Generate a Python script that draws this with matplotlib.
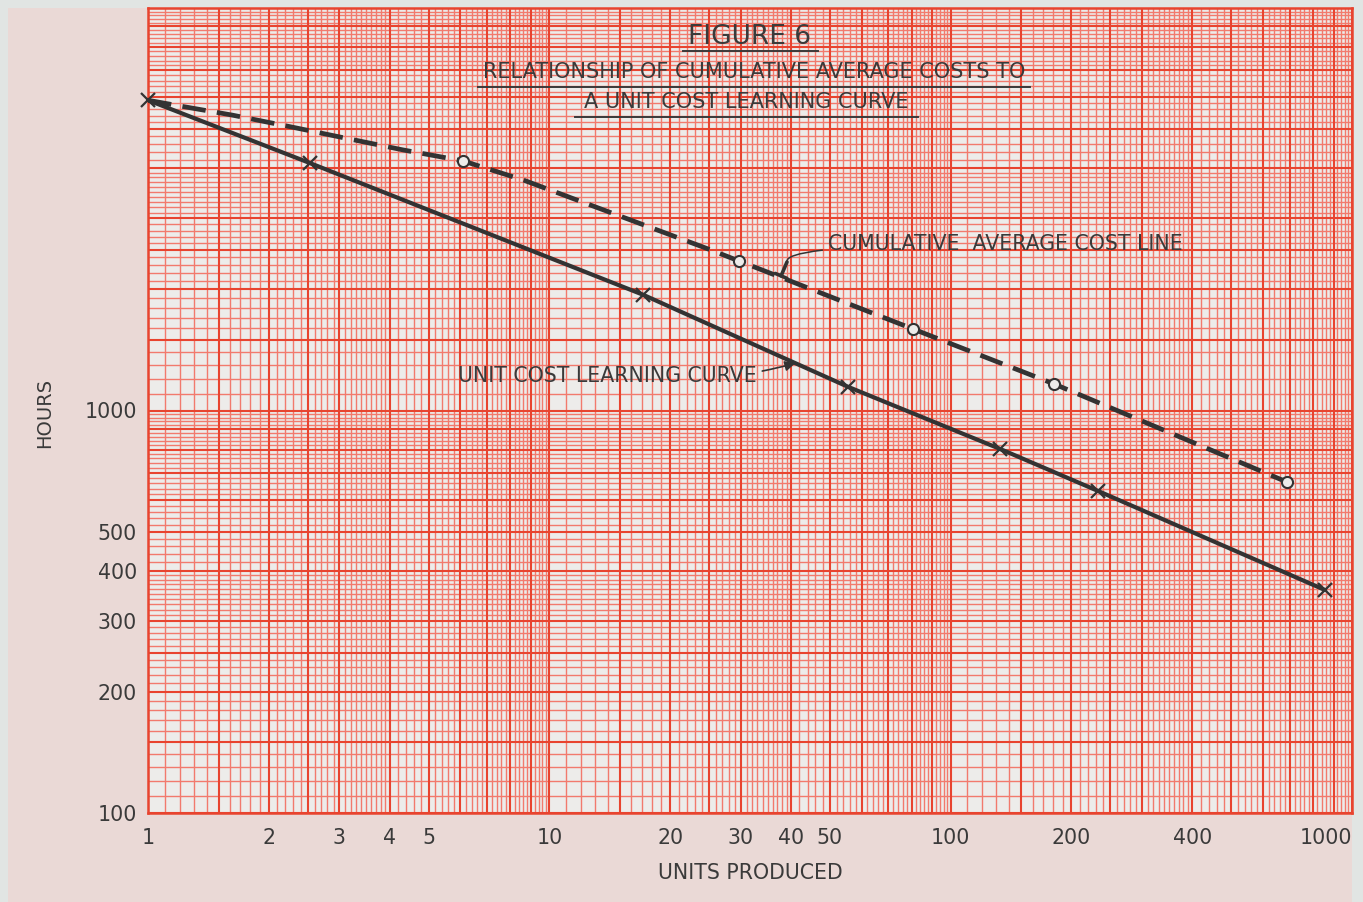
import numpy as np
import matplotlib
matplotlib.use("Agg")
import matplotlib.pyplot as plt
from matplotlib.lines import Line2D
from matplotlib.patches import Rectangle

# ---------------- data ----------------
unit_x = [1, 2.53, 17.1, 55.5, 133, 233, 857]
unit_y = [5900, 4120, 1940, 1145, 802, 631, 358]

cum_x = [1, 1.20, 1.62, 2.22, 3.01, 4.32, 6.09, 8.60, 24.6, 29.7, 80.6, 181, 689]
cum_y = [5900, 5710, 5420, 5090, 4780, 4440, 4170, 3740, 2530, 2352, 1594, 1164, 664]

cum_marker_x = [6.09, 29.7, 80.6, 181, 689]
cum_marker_y = [4170, 2352, 1594, 1164, 664]

x_ticks = [1, 2, 3, 4, 5, 10, 20, 30, 40, 50, 100, 200, 400, 1000]
x_tick_labels = ["1", "2", "3", "4", "5", "10", "20", "30", "40", "50", "100", "200", "400", "1000"]
y_ticks = [100, 200, 300, 400, 500, 1000]
y_tick_labels = ["100", "200", "300", "400", "500", "1000"]

title_lines = ["FIGURE 6",
               "RELATIONSHIP OF CUMULATIVE AVERAGE COSTS TO",
               "A UNIT COST LEARNING CURVE"]
x_label = "UNITS PRODUCED"
y_label = "HOURS"
cum_label = "CUMULATIVE  AVERAGE COST LINE"
unit_label = "UNIT COST LEARNING CURVE"

# ---------------- styling ----------------
W, H = 1363, 902
PAGE = "#ead9d6"
EDGE = "#e1e5e3"
PAPER = "#edecea"
RED_BOLD = "#e8442f"
RED_FINE = "#f27a6d"
INK = "#333333"
TXT = "#3a3a3a"
FS = 14.8

plt.rcParams["font.family"] = ["DejaVu Sans"]

fig = plt.figure(figsize=(W / 100, H / 100), dpi=100)
fig.patch.set_facecolor(EDGE)
fig.add_artist(Rectangle((8 / W, 0), (1352 - 8) / W, (H - 8) / H,
                         transform=fig.transFigure, facecolor=PAGE,
                         edgecolor="none", zorder=-10))

L, R, T, B = 148, 1352, 8, 813
ax = fig.add_axes([L / W, (H - B) / H, (R - L) / W, (B - T) / H])
ax.set_facecolor(PAPER)
ax.set_xscale("log")
ax.set_yscale("log")
ax.set_xlim(1, 1000)
ax.set_ylim(100, 10000)


def paper_lines(lo_exp, hi_exp):
    fine, bold = [], []
    bold_m = [1, 1.5, 2, 2.5, 3, 4, 5, 6, 7, 8, 9]
    for e in range(lo_exp, hi_exp):
        base = 10.0 ** e
        for m in bold_m:
            bold.append(m * base)
        for m in np.round(np.arange(1.1, 4.0, 0.1), 2):
            if not any(abs(m - b) < 1e-6 for b in bold_m):
                fine.append(m * base)
        for m in np.round(np.arange(4.2, 10.0, 0.2), 2):
            if not any(abs(m - b) < 1e-6 for b in bold_m):
                fine.append(m * base)
    bold.append(10.0 ** hi_exp)
    return fine, bold


xf, xb = paper_lines(0, 3)
yf, yb = paper_lines(2, 4)
ax.vlines(xf, 0, 1, transform=ax.get_xaxis_transform(), colors=RED_FINE, lw=1.0, zorder=0)
ax.hlines(yf, 0, 1, transform=ax.get_yaxis_transform(), colors=RED_FINE, lw=1.0, zorder=0)
ax.vlines(xb, 0, 1, transform=ax.get_xaxis_transform(), colors=RED_BOLD, lw=1.5, zorder=0.5)
ax.hlines(yb, 0, 1, transform=ax.get_yaxis_transform(), colors=RED_BOLD, lw=1.5, zorder=0.5)

for s in ax.spines.values():
    s.set_color(RED_BOLD)
    s.set_linewidth(1.8)

# ---------------- curves ----------------
ax.plot(unit_x, unit_y, color=INK, lw=3.0, solid_capstyle="round", zorder=3)
ax.plot(unit_x, unit_y, ls="none", marker="x", ms=10, mew=1.6, color=INK,
        zorder=4, clip_on=False)

ax.plot(cum_x, cum_y, color=INK, lw=3.4, ls=(0, (5.0, 2.4)), zorder=3)
ax.plot(cum_marker_x, cum_marker_y, ls="none", marker="o", ms=8, mew=1.5,
        mfc=PAPER, mec=INK, zorder=4, clip_on=False)

# ---------------- ticks ----------------
ax.set_xticks(x_ticks)
ax.set_xticklabels(x_tick_labels)
ax.set_yticks(y_ticks)
ax.set_yticklabels(y_tick_labels)
ax.minorticks_off()
ax.tick_params(axis="both", length=0, labelsize=FS, labelcolor=TXT)
ax.tick_params(axis="x", pad=11)
ax.tick_params(axis="y", pad=8)
ax.get_xticklabels()[-1].set_horizontalalignment("right")

fig.text(750 / W, 1 - 873 / H, x_label, ha="center", va="center", fontsize=FS, color=TXT)
fig.text(45 / W, 1 - 413 / H, y_label, ha="center", va="center", fontsize=14,
         color=TXT, rotation=90)

# ---------------- titles with underlines ----------------
title_specs = [(749, 37, 19, 683, 818, 51),
               (754, 72, 15, 478, 1030, 87),
               (746, 102, 15, 575, 918, 117)]
for txt, (cx, cy, fs, u0, u1, uy) in zip(title_lines, title_specs):
    fig.text(cx / W, 1 - cy / H, txt, ha="center", va="center", fontsize=fs, color=TXT)
    fig.add_artist(Line2D([u0 / W, u1 / W], [1 - uy / H, 1 - uy / H],
                          transform=fig.transFigure, color=TXT, lw=1.4))

# ---------------- callouts ----------------
ax.annotate(cum_label, xy=(39.1, 2339), xycoords="data",
            xytext=(828 / W, 1 - 244 / H), textcoords="figure fraction",
            ha="left", va="center", fontsize=FS, color=TXT,
            arrowprops=dict(arrowstyle="-", color=INK, lw=1.1,
                            connectionstyle="angle3,angleA=180,angleB=-75",
                            shrinkA=2, shrinkB=0))
ax.annotate("", xy=(37.8, 2160), xycoords="data",
            xytext=(39.1, 2339), textcoords="data",
            arrowprops=dict(arrowstyle="-[,widthB=0.45,lengthB=0", color=INK,
                            lw=2.6, shrinkA=0, shrinkB=0))

ax.annotate(unit_label, xy=(41, 1310), xycoords="data",
            xytext=(458 / W, 1 - 376 / H), textcoords="figure fraction",
            ha="left", va="center", fontsize=FS, color=TXT,
            arrowprops=dict(arrowstyle="-|>", color=INK, lw=1.2,
                            mutation_scale=15,
                            connectionstyle="arc3,rad=0.1",
                            shrinkA=2, shrinkB=0))

fig.savefig("out.png", dpi=100, facecolor=fig.get_facecolor())
